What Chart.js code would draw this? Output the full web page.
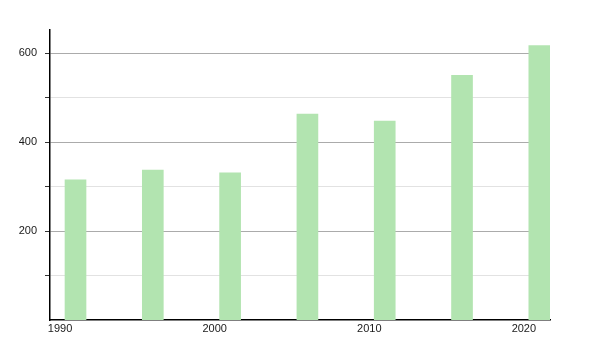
<!DOCTYPE html>
<html>
<head>
<meta charset="utf-8">
<script src="https://cdn.jsdelivr.net/npm/chart.js@4"></script>
<style>
  html, body { margin: 0; padding: 0; background: #fff; }
</style>
</head>
<body>
<canvas id="chart" width="600" height="350"></canvas>
<script>
// values
const years = [1991, 1996, 2001, 2006, 2011, 2016, 2021];
const values = [315, 337, 331, 463, 447, 550, 617];
const xTicks = [1990, 2000, 2010, 2020];
const yTicks = [100, 200, 300, 400, 500, 600];
const yLabelled = [200, 400, 600];

const font = { family: 'Liberation Sans, Arial, sans-serif', size: 11 };

const ctx = document.getElementById('chart').getContext('2d');
new Chart(ctx, {
  type: 'bar',
  data: {
    datasets: [{
      data: years.map((y, i) => ({ x: y, y: values[i] })),
      backgroundColor: '#b2e4b0',
      borderWidth: 0,
      barThickness: 21
    }]
  },
  options: {
    responsive: false,
    animation: false,
    layout: { padding: { top: 30, right: 50, left: 0, bottom: 0 } },
    plugins: { legend: { display: false }, tooltip: { enabled: false } },
    scales: {
      x: {
        type: 'linear',
        offset: false,
        min: 1989.35,
        max: 2021.69,
        afterBuildTicks: s => { s.ticks = xTicks.map(v => ({ value: v })); },
        afterFit: s => { s.height = 30; },
        border: { color: '#000', width: 1.5 },
        grid: { display: false, drawTicks: false, offset: false },
        ticks: {
          font,
          color: '#1a1a1a',
          padding: 2,
          maxRotation: 0,
          callback: v => String(v)
        }
      },
      y: {
        min: 0,
        max: 652,
        afterBuildTicks: s => { s.ticks = yTicks.map(v => ({ value: v })); },
        afterFit: s => { s.width = 50; },
        border: { color: '#000', width: 1.5 },
        grid: {
          color: c => (c.tick && c.tick.value % 200 === 0) ? '#ababab' : '#e2e2e2',
          tickColor: '#333',
          tickLength: 5,
          lineWidth: 1
        },
        ticks: {
          font,
          color: '#1a1a1a',
          padding: 8,
          callback: v => yLabelled.includes(v) ? String(v) : ''
        }
      }
    }
  }
});
</script>
</body>
</html>
